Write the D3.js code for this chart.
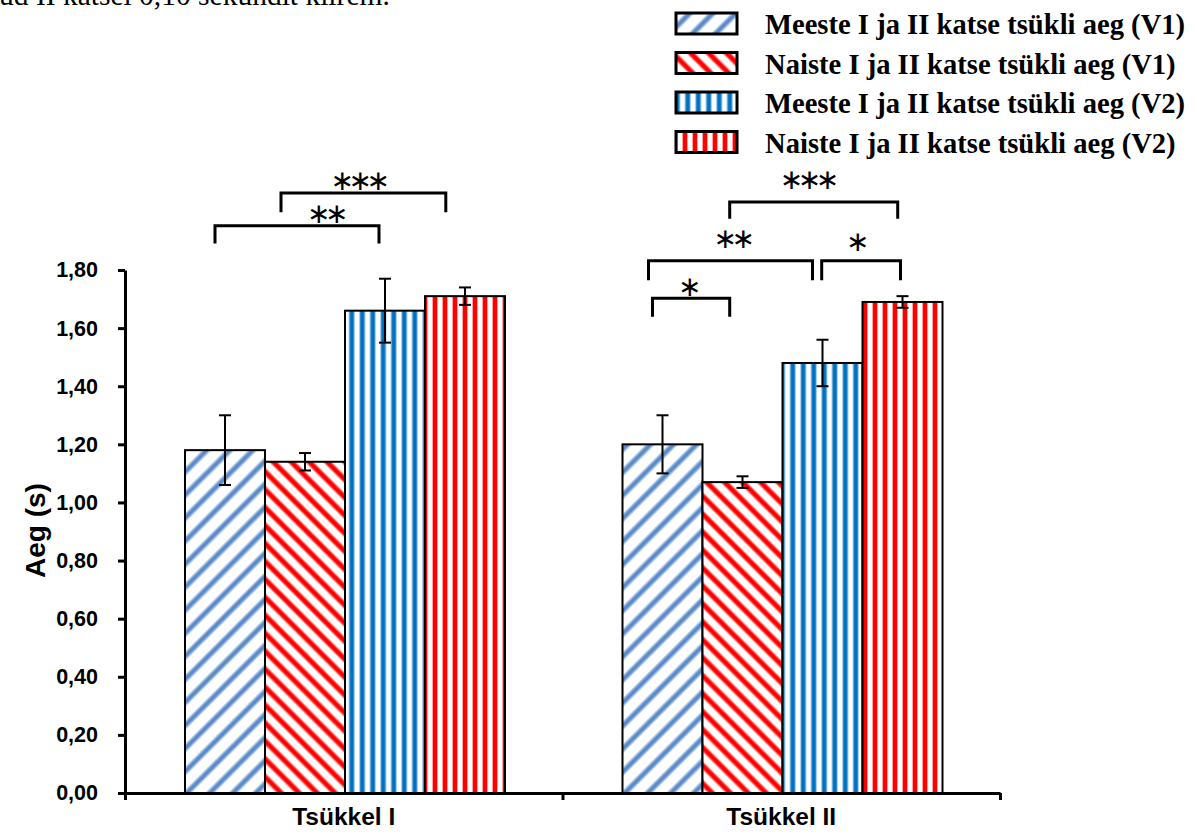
<!DOCTYPE html>
<html>
<head>
<meta charset="utf-8">
<script src="https://cdn.jsdelivr.net/npm/d3@7"></script>
<style>
  body { margin: 0; background: #fff; }
  svg { display: block; }
</style>
</head>
<body>
<svg id="chart" width="1197" height="834"></svg>
<script>
// ---- data ----
const categories = ["Tsükkel I", "Tsükkel II"];
const seriesNames = [
  "Meeste I ja II katse tsükli aeg (V1)",
  "Naiste I ja II katse tsükli aeg (V1)",
  "Meeste I ja II katse tsükli aeg (V2)",
  "Naiste I ja II katse tsükli aeg (V2)"
];
const meesteV1 = [1.18, 1.20];
const naisteV1 = [1.14, 1.07];
const meesteV2 = [1.66, 1.48];
const naisteV2 = [1.71, 1.69];
const errMeesteV1 = [0.12, 0.10];
const errNaisteV1 = [0.03, 0.02];
const errMeesteV2 = [0.11, 0.08];
const errNaisteV2 = [0.03, 0.02];
const yTicks = [0, 0.2, 0.4, 0.6, 0.8, 1.0, 1.2, 1.4, 1.6, 1.8];
const yTitle = "Aeg (s)";
const headerText = "ud II katsel 0,10 sekundit kiirem.";

// significance brackets: category, first and second series, stars
const significance = [
  { cat: 0, from: 0, to: 2, label: "**" },
  { cat: 0, from: 1, to: 3, label: "***" },
  { cat: 1, from: 0, to: 1, label: "*" },
  { cat: 1, from: 0, to: 2, label: "**" },
  { cat: 1, from: 2, to: 3, label: "*" },
  { cat: 1, from: 1, to: 3, label: "***" }
];

// ---- layout ----
// where each bracket end sits inside its bar (0 = left edge, 1 = right edge),
// and bracket heights in axis units
const bracketLayout = [
  { f0: 0.375, f1: 0.425, top: 1.952, leg: 1.891, textY: 1.996, dx: 28 },
  { f0: 0.20,  f1: 0.26,  top: 2.065, leg: 1.999, textY: 2.107, dx: -6 },
  { f0: 0.375, f1: 0.34,  top: 1.703, leg: 1.639, textY: 1.742, dx: -4 },
  { f0: 0.325, f1: 0.375, top: 1.832, leg: 1.765, textY: 1.910, dx: 1 },
  { f0: 0.49,  f1: 0.475, top: 1.832, leg: 1.765, textY: 1.897, dx: -6 },
  { f0: 0.34,  f1: 0.44,  top: 2.034, leg: 1.976, textY: 2.110, dx: -7 }
];

const values = [meesteV1, naisteV1, meesteV2, naisteV2];
const errors = [errMeesteV1, errNaisteV1, errMeesteV2, errNaisteV2];

const svg = d3.select("#chart");
const defs = svg.append("defs");

// striped fills: soft-edged stripes rotated per series
function stripePattern(id, period, core, coreW, fringe, fringeW, angle) {
  const p = defs.append("pattern")
    .attr("id", id)
    .attr("patternUnits", "userSpaceOnUse")
    .attr("width", period)
    .attr("height", period)
    .attr("patternTransform", `rotate(${angle})`);
  p.append("rect").attr("width", period).attr("height", period).attr("fill", "#fff");
  p.append("rect")
    .attr("x", (period - coreW) / 2 - fringeW)
    .attr("width", coreW + 2 * fringeW)
    .attr("height", period)
    .attr("fill", fringe);
  p.append("rect")
    .attr("x", (period - coreW) / 2)
    .attr("width", coreW)
    .attr("height", period)
    .attr("fill", core);
}
stripePattern("fill0", 16.3, "#5b8bc8", 3.6, "#adc6e6", 1.4, 45);
stripePattern("fill1", 12.7, "#ff0000", 4.2, "#ff9d9d", 1.2, -45);
stripePattern("fill2", 10.5, "#0070c0", 4.0, "#92c1e4", 1.0, 0);
stripePattern("fill3", 10.0, "#ff0000", 4.0, "#ffa3a3", 1.0, 0);

// ---- scales ----
const y = d3.scaleLinear().domain([0, 1.8]).range([793, 270]);
const x0 = d3.scaleBand().domain(categories).range([125, 1000]);
const x1 = d3.scaleBand().domain(d3.range(seriesNames.length)).range([60, 380]);
const xEdge = d3.scaleLinear().domain([0, categories.length]).range(x0.range());

// header line of running text (runs off the top edge)
svg.append("text")
  .attr("x", -1).attr("y", 5)
  .attr("font-family", "'Liberation Serif', 'Times New Roman', serif")
  .attr("font-size", 29.5)
  .attr("fill", "#000")
  .text(headerText);

// ---- bars ----
const gBars = svg.append("g");
const barData = [];
categories.forEach((c, ci) => {
  seriesNames.forEach((s, si) => {
    barData.push({ ci, si, c, v: values[si][ci], e: errors[si][ci] });
  });
});

gBars.selectAll("rect.bar")
  .data(barData)
  .join("rect")
  .attr("class", "bar")
  .attr("x", d => x0(d.c) + x1(d.si))
  .attr("y", d => y(d.v))
  .attr("width", x1.bandwidth())
  .attr("height", d => y(0) - y(d.v))
  .attr("fill", d => `url(#fill${d.si})`)
  .attr("stroke", "#000")
  .attr("stroke-width", 2);

// error bars
const capW = 12;
const gErr = svg.append("g").attr("stroke", "#000").attr("stroke-width", 2);
barData.forEach(d => {
  const cx = x0(d.c) + x1(d.si) + x1.bandwidth() / 2;
  gErr.append("line").attr("x1", cx).attr("x2", cx).attr("y1", y(d.v + d.e)).attr("y2", y(d.v - d.e));
  gErr.append("line").attr("x1", cx - capW / 2).attr("x2", cx + capW / 2).attr("y1", y(d.v + d.e)).attr("y2", y(d.v + d.e));
  gErr.append("line").attr("x1", cx - capW / 2).attr("x2", cx + capW / 2).attr("y1", y(d.v - d.e)).attr("y2", y(d.v - d.e));
});

// ---- axes ----
const fmt = d => d.toFixed(2).replace(".", ",");
const yAxis = svg.append("g")
  .attr("transform", `translate(${x0.range()[0]},0)`)
  .call(d3.axisLeft(y).tickValues(yTicks).tickFormat(fmt).tickSize(7).tickSizeOuter(0).tickPadding(20));
yAxis.select(".domain").attr("stroke-width", 3);
yAxis.selectAll(".tick line").attr("stroke-width", 3);
yAxis.selectAll(".tick text")
  .attr("font-family", "'Liberation Sans', Arial, sans-serif")
  .attr("font-weight", "bold")
  .attr("font-size", 21.5)
  .attr("fill", "#000");

const xAxis = svg.append("g")
  .attr("transform", `translate(0,${y(0)})`)
  .call(d3.axisBottom(xEdge).ticks(categories.length).tickFormat("").tickSize(7).tickSizeOuter(0));
xAxis.select(".domain").attr("stroke-width", 3);
xAxis.selectAll(".tick line").attr("stroke-width", 3);

svg.append("g").selectAll("text")
  .data(categories)
  .join("text")
  .attr("x", d => x0(d) + x0.bandwidth() / 2)
  .attr("y", y(0) + 32)
  .attr("text-anchor", "middle")
  .attr("font-family", "'Liberation Sans', Arial, sans-serif")
  .attr("font-weight", "bold")
  .attr("font-size", 24.5)
  .text(d => d);

svg.append("text")
  .attr("transform", `translate(45,${(y(0) + y(1.8)) / 2 - 1}) rotate(-90)`)
  .attr("text-anchor", "middle")
  .attr("font-family", "'Liberation Sans', Arial, sans-serif")
  .attr("font-weight", "bold")
  .attr("font-size", 28)
  .text(yTitle);

// ---- significance brackets ----
const gSig = svg.append("g");
significance.forEach((s, i) => {
  const L = bracketLayout[i];
  const c = categories[s.cat];
  const xa = x0(c) + x1(s.from) + L.f0 * x1.bandwidth();
  const xb = x0(c) + x1(s.to) + L.f1 * x1.bandwidth();
  gSig.append("path")
    .attr("d", `M${xa},${y(L.leg)}V${y(L.top)}H${xb}V${y(L.leg)}`)
    .attr("fill", "none")
    .attr("stroke", "#000")
    .attr("stroke-width", 3);
  gSig.append("text")
    .attr("x", (xa + xb) / 2 + L.dx)
    .attr("y", y(L.textY))
    .attr("text-anchor", "middle")
    .attr("dominant-baseline", "central")
    .attr("font-family", "'DejaVu Sans', sans-serif")
    .attr("font-size", 28)
    .attr("letter-spacing", -5.5)
    .text(s.label.replace(/\*/g, "\u2217"));
});

// ---- legend ----
const legend = svg.append("g");
seriesNames.forEach((name, i) => {
  const base = 34 + i * 39.5;
  legend.append("rect")
    .attr("x", 676).attr("y", base - 21)
    .attr("width", 61).attr("height", 21)
    .attr("fill", `url(#fill${i})`)
    .attr("stroke", "#000")
    .attr("stroke-width", 3);
  legend.append("text")
    .attr("x", 765).attr("y", base)
    .attr("font-family", "'Liberation Serif', 'Times New Roman', serif")
    .attr("font-weight", "bold")
    .attr("font-size", 28.6)
    .text(name);
});
</script>
</body>
</html>
